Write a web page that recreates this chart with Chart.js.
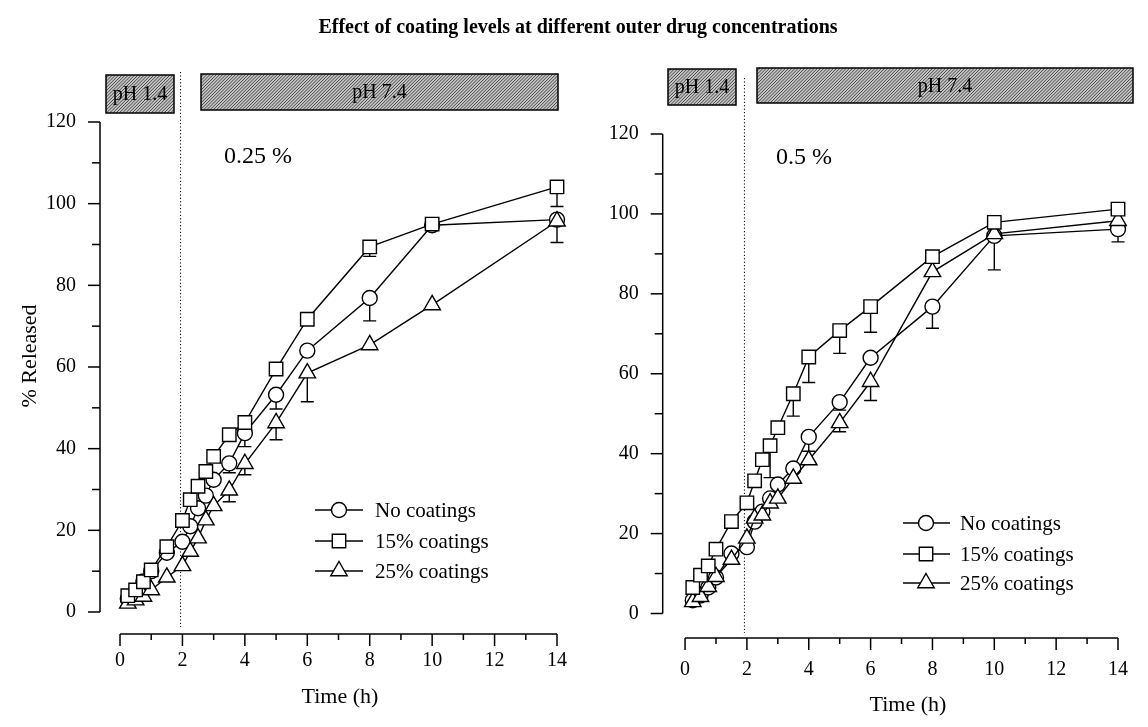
<!DOCTYPE html>
<html><head><meta charset="utf-8">
<script src="https://cdn.jsdelivr.net/npm/chart.js@4.4.0/dist/chart.umd.min.js"></script>
<style>
html,body{margin:0;padding:0;background:#fff;}
#wrap{position:relative;width:1148px;height:727px;overflow:hidden;background:#fff;}
canvas{position:absolute;left:0;top:0;}
#title{position:absolute;left:4px;width:1148px;top:15px;text-align:center;font:bold 20px "Liberation Serif","Times New Roman",serif;color:#000;}
</style></head><body>
<div id="wrap">
<canvas id="c1" width="1148" height="727"></canvas>
<canvas id="c2" width="1148" height="727"></canvas>
<div id="title">Effect of coating levels at different outer drug concentrations</div>
</div>
<script>
// ---------- data ----------
const times = [0.25,0.5,0.75,1,1.5,2,2.25,2.5,2.75,3,3.5,4,5,6,8,10,14];
const seriesNames = ['No coatings','15% coatings','25% coatings'];
const xTickLabels = [0,2,4,6,8,10,12,14];
const yTickLabels = [0,20,40,60,80,100,120];
const panelLabels = ['0.25 %','0.5 %'];
const phaseLabels = ['pH 1.4','pH 7.4'];
const phaseChange = [1.94, 1.92];

const left_none = [3.3,5.0,7.5,10.0,14.5,17.2,21.0,25.4,28.5,32.4,36.4,43.8,53.2,64.0,76.9,94.7,96.1];
const left_15   = [4.0,5.4,7.4,10.3,16.0,22.4,27.5,30.8,34.4,38.1,43.4,46.4,59.5,71.7,89.4,95.0,104.1];
const left_25   = [2.1,2.9,3.8,5.4,8.5,11.3,14.8,18.1,22.5,26.0,29.8,36.3,46.3,58.5,65.4,75.2,95.7];

const right_none = [3.3,4.5,6.5,9.0,15.0,16.6,23.0,25.5,28.8,32.3,36.3,44.2,52.9,64.0,76.8,94.5,96.2];
const right_15   = [6.5,9.6,11.9,16.1,23.0,27.7,33.2,38.5,42.0,46.5,55.0,64.2,70.8,76.8,89.3,97.9,101.2];
const right_25   = [2.9,4.2,6.7,9.2,13.5,18.8,23.8,24.6,27.6,28.8,33.8,38.4,47.7,58.0,85.5,95.0,98.3];

const N = null;
const left_none_sd  = [N,N,N,N,N,N,N,N,N,N,2.3,3.3,3.5,N,5.6,N,N];
const left_15_sd    = [N,N,N,N,N,N,N,N,N,N,N,N,N,N,2.3,N,4.8];
const left_25_sd    = [N,N,N,N,N,N,N,N,N,N,2.8,2.7,4.1,7.0,N,N,5.2];
const right_none_sd = [N,N,N,N,N,N,N,N,N,N,N,3.6,2.0,N,5.4,N,3.2];
const right_15_sd   = [N,N,N,N,N,N,N,N,8.0,N,5.6,6.4,5.7,6.4,N,N,N];
const right_25_sd   = [N,N,N,N,N,N,N,N,N,N,N,N,2.2,4.7,N,9.0,N];

// ---------- styling ----------
const FONT = '"Liberation Serif","Times New Roman",serif';
const styles = ['circle','rect','triangle'];
const radii = [7.5, 9.5, 9.5];
const drawOrder = [2, 0, 1];

function drawMarker(ctx, style, x, y, r){
  ctx.beginPath();
  if (style === 'circle') { ctx.arc(x, y, r, 0, Math.PI*2); }
  else if (style === 'rect') { const s = r*Math.SQRT1_2; ctx.rect(x-s, y-s, 2*s, 2*s); }
  else { ctx.moveTo(x, y-r); ctx.lineTo(x+0.866*r, y+0.5*r); ctx.lineTo(x-0.866*r, y+0.5*r); ctx.closePath(); }
  ctx.fillStyle = '#fff'; ctx.fill();
  ctx.strokeStyle = '#000'; ctx.lineWidth = 1.4; ctx.stroke();
}

function hatchBox(ctx, b){
  ctx.save();
  ctx.beginPath(); ctx.rect(b.x1, b.y1, b.x2-b.x1, b.y2-b.y1); ctx.clip();
  ctx.fillStyle = '#c4c4c4'; ctx.fillRect(b.x1, b.y1, b.x2-b.x1, b.y2-b.y1);
  ctx.strokeStyle = '#3a3a3a'; ctx.lineWidth = 0.9;
  const h = b.y2-b.y1;
  ctx.beginPath();
  for (let x = b.x1 - h; x < b.x2 + h; x += 3.2) { ctx.moveTo(x, b.y2); ctx.lineTo(x+h, b.y1); }
  ctx.stroke();
  ctx.restore();
  ctx.strokeStyle = '#000'; ctx.lineWidth = 1.5;
  ctx.strokeRect(b.x1, b.y1, b.x2-b.x1, b.y2-b.y1);
  ctx.fillStyle = '#000'; ctx.font = '20px ' + FONT; ctx.textAlign = 'center'; ctx.textBaseline = 'middle';
  ctx.fillText(b.text, (b.x1+b.x2)/2, (b.y1+b.y2)/2 + 1);
}

function makePanelPlugin(P){
  return {
    id: 'panel',
    beforeDatasetsDraw(chart){
      const ctx = chart.ctx, xs = chart.scales.x, ys = chart.scales.y;
      const ax = chart.chartArea.left, ay = chart.chartArea.bottom;
      ctx.save();
      ctx.strokeStyle = '#000'; ctx.lineWidth = 1.5; ctx.lineCap = 'butt';
      // y axis
      ctx.beginPath(); ctx.moveTo(ax, ys.getPixelForValue(0)); ctx.lineTo(ax, ys.getPixelForValue(120)); ctx.stroke();
      ys.ticks.forEach(t => {
        if (t.value < 0) return;
        const y = ys.getPixelForValue(t.value);
        const L = yTickLabels.includes(t.value) ? 12 : 8;
        ctx.beginPath(); ctx.moveTo(ax-L, y); ctx.lineTo(ax, y); ctx.stroke();
      });
      // x axis
      ctx.beginPath(); ctx.moveTo(xs.getPixelForValue(0), ay); ctx.lineTo(xs.getPixelForValue(14), ay); ctx.stroke();
      xs.ticks.forEach(t => {
        if (t.value < 0) return;
        const x = xs.getPixelForValue(t.value);
        const L = xTickLabels.includes(t.value) ? 12 : 6;
        ctx.beginPath(); ctx.moveTo(x, ay); ctx.lineTo(x, ay+L); ctx.stroke();
      });
      // pH change dotted line
      const bx = xs.getPixelForValue(P.boundary);
      ctx.lineWidth = 1; ctx.setLineDash([1.2, 2.2]);
      ctx.beginPath(); ctx.moveTo(bx, P.dotTop); ctx.lineTo(bx, P.dotBottom); ctx.stroke();
      ctx.setLineDash([]);
      // error bars (downward)
      ctx.lineWidth = 1.4;
      chart.data.datasets.forEach(ds => {
        if (!ds.sd) return;
        ds.data.forEach((p, j) => {
          const s = ds.sd[j]; if (s == null) return;
          const x = xs.getPixelForValue(p.x), y1 = ys.getPixelForValue(p.y), y2 = ys.getPixelForValue(p.y - s);
          ctx.beginPath(); ctx.moveTo(x, y1); ctx.lineTo(x, y2); ctx.moveTo(x-6.5, y2); ctx.lineTo(x+6.5, y2); ctx.stroke();
        });
      });
      ctx.restore();
    },
    afterDatasetsDraw(chart){
      const ctx = chart.ctx;
      ctx.save();
      P.boxes.forEach(b => hatchBox(ctx, b));
      ctx.fillStyle = '#000';
      ctx.font = '24px ' + FONT; ctx.textAlign = 'left'; ctx.textBaseline = 'middle';
      ctx.fillText(P.label.text, P.label.x, P.label.y);
      // legend
      const L = P.legend;
      seriesNames.forEach((name, k) => {
        const y = L.rows[k];
        ctx.strokeStyle = '#000'; ctx.lineWidth = 1.4;
        ctx.beginPath(); ctx.moveTo(L.x1, y); ctx.lineTo(L.x2, y); ctx.stroke();
        drawMarker(ctx, styles[k], L.mx, y, radii[k]);
        ctx.fillStyle = '#000'; ctx.font = '21px ' + FONT; ctx.textAlign = 'left'; ctx.textBaseline = 'middle';
        ctx.fillText(name, L.tx, y + 1);
      });
      // axis titles
      ctx.font = '22px ' + FONT; ctx.textAlign = 'center'; ctx.textBaseline = 'middle';
      ctx.fillText(P.xTitle.text, P.xTitle.x, P.xTitle.y);
      if (P.yTitle) {
        ctx.save(); ctx.translate(P.yTitle.x, P.yTitle.y); ctx.rotate(-Math.PI/2);
        ctx.fillText(P.yTitle.text, 0, 0); ctx.restore();
      }
      ctx.restore();
    }
  };
}

function buildChart(canvasId, vals, sds, P){
  const datasets = vals.map((v, k) => ({
    label: seriesNames[k],
    data: times.map((t, i) => ({x: t, y: v[i]})),
    sd: sds[k],
    borderColor: '#000', borderWidth: 1.4, backgroundColor: '#fff',
    pointStyle: styles[k], pointRadius: radii[k], pointHoverRadius: radii[k],
    pointBackgroundColor: '#fff', pointBorderColor: '#000', pointBorderWidth: 1.4,
    tension: 0, fill: false, order: drawOrder[k], clip: false
  }));
  return new Chart(document.getElementById(canvasId), {
    type: 'line',
    data: {datasets},
    options: {
      responsive: false, animation: false, devicePixelRatio: 1, events: [],
      layout: {padding: {left: 0, right: P.padRight, top: P.padTop, bottom: 0}},
      plugins: {legend: {display: false}, tooltip: {enabled: false}, title: {display: false}},
      scales: {
        x: {
          type: 'linear', min: P.xMin, max: 14,
          grid: {display: false, drawTicks: false}, border: {display: false},
          ticks: {stepSize: 1, includeBounds: false, autoSkip: false, maxRotation: 0, padding: P.xLabelPad,
                  color: '#000', font: {family: FONT, size: 20},
                  callback: v => xTickLabels.includes(v) ? String(v) : ''},
          afterFit: s => { s.height = P.xAxisHeight; }
        },
        y: {
          type: 'linear', min: P.yMin, max: 120,
          grid: {display: false, drawTicks: false}, border: {display: false},
          ticks: {stepSize: 10, includeBounds: false, autoSkip: false, padding: P.yLabelPad,
                  color: '#000', font: {family: FONT, size: 20},
                  callback: v => yTickLabels.includes(v) ? String(v) : ''},
          afterFit: s => { s.width = P.yAxisWidth; }
        }
      }
    },
    plugins: [makePanelPlugin(P)]
  });
}

buildChart('c1', [left_none, left_15, left_25], [left_none_sd, left_15_sd, left_25_sd], {
  xMin: -0.641, yMin: -5.39, padTop: 122, padRight: 591, yAxisWidth: 100, xAxisHeight: 93,
  xLabelPad: 15, yLabelPad: 24, boundary: phaseChange[0], dotTop: 72, dotBottom: 627,
  boxes: [{x1: 106, y1: 75, x2: 174, y2: 113, text: phaseLabels[0]}, {x1: 201, y1: 74, x2: 558, y2: 110, text: phaseLabels[1]}],
  label: {text: panelLabels[0], x: 224, y: 157},
  legend: {x1: 315, x2: 363, mx: 339, tx: 375, rows: [510, 541, 571]},
  xTitle: {text: 'Time (h)', x: 340, y: 697},
  yTitle: {text: '% Released', x: 30, y: 356}
});

buildChart('c2', [right_none, right_15, right_25], [right_none_sd, right_15_sd, right_25_sd], {
  xMin: -0.723, yMin: -6.13, padTop: 134, padRight: 17, yAxisWidth: 662.7, xAxisHeight: 89,
  xLabelPad: 20, yLabelPad: 24, boundary: phaseChange[1], dotTop: 78, dotBottom: 633,
  boxes: [{x1: 668, y1: 69, x2: 736, y2: 105, text: phaseLabels[0]}, {x1: 757, y1: 68, x2: 1133, y2: 103, text: phaseLabels[1]}],
  label: {text: panelLabels[1], x: 776, y: 158},
  legend: {x1: 903, x2: 950, mx: 926, tx: 960, rows: [523, 554, 583]},
  xTitle: {text: 'Time (h)', x: 908, y: 705},
  yTitle: null
});
</script>
</body></html>
